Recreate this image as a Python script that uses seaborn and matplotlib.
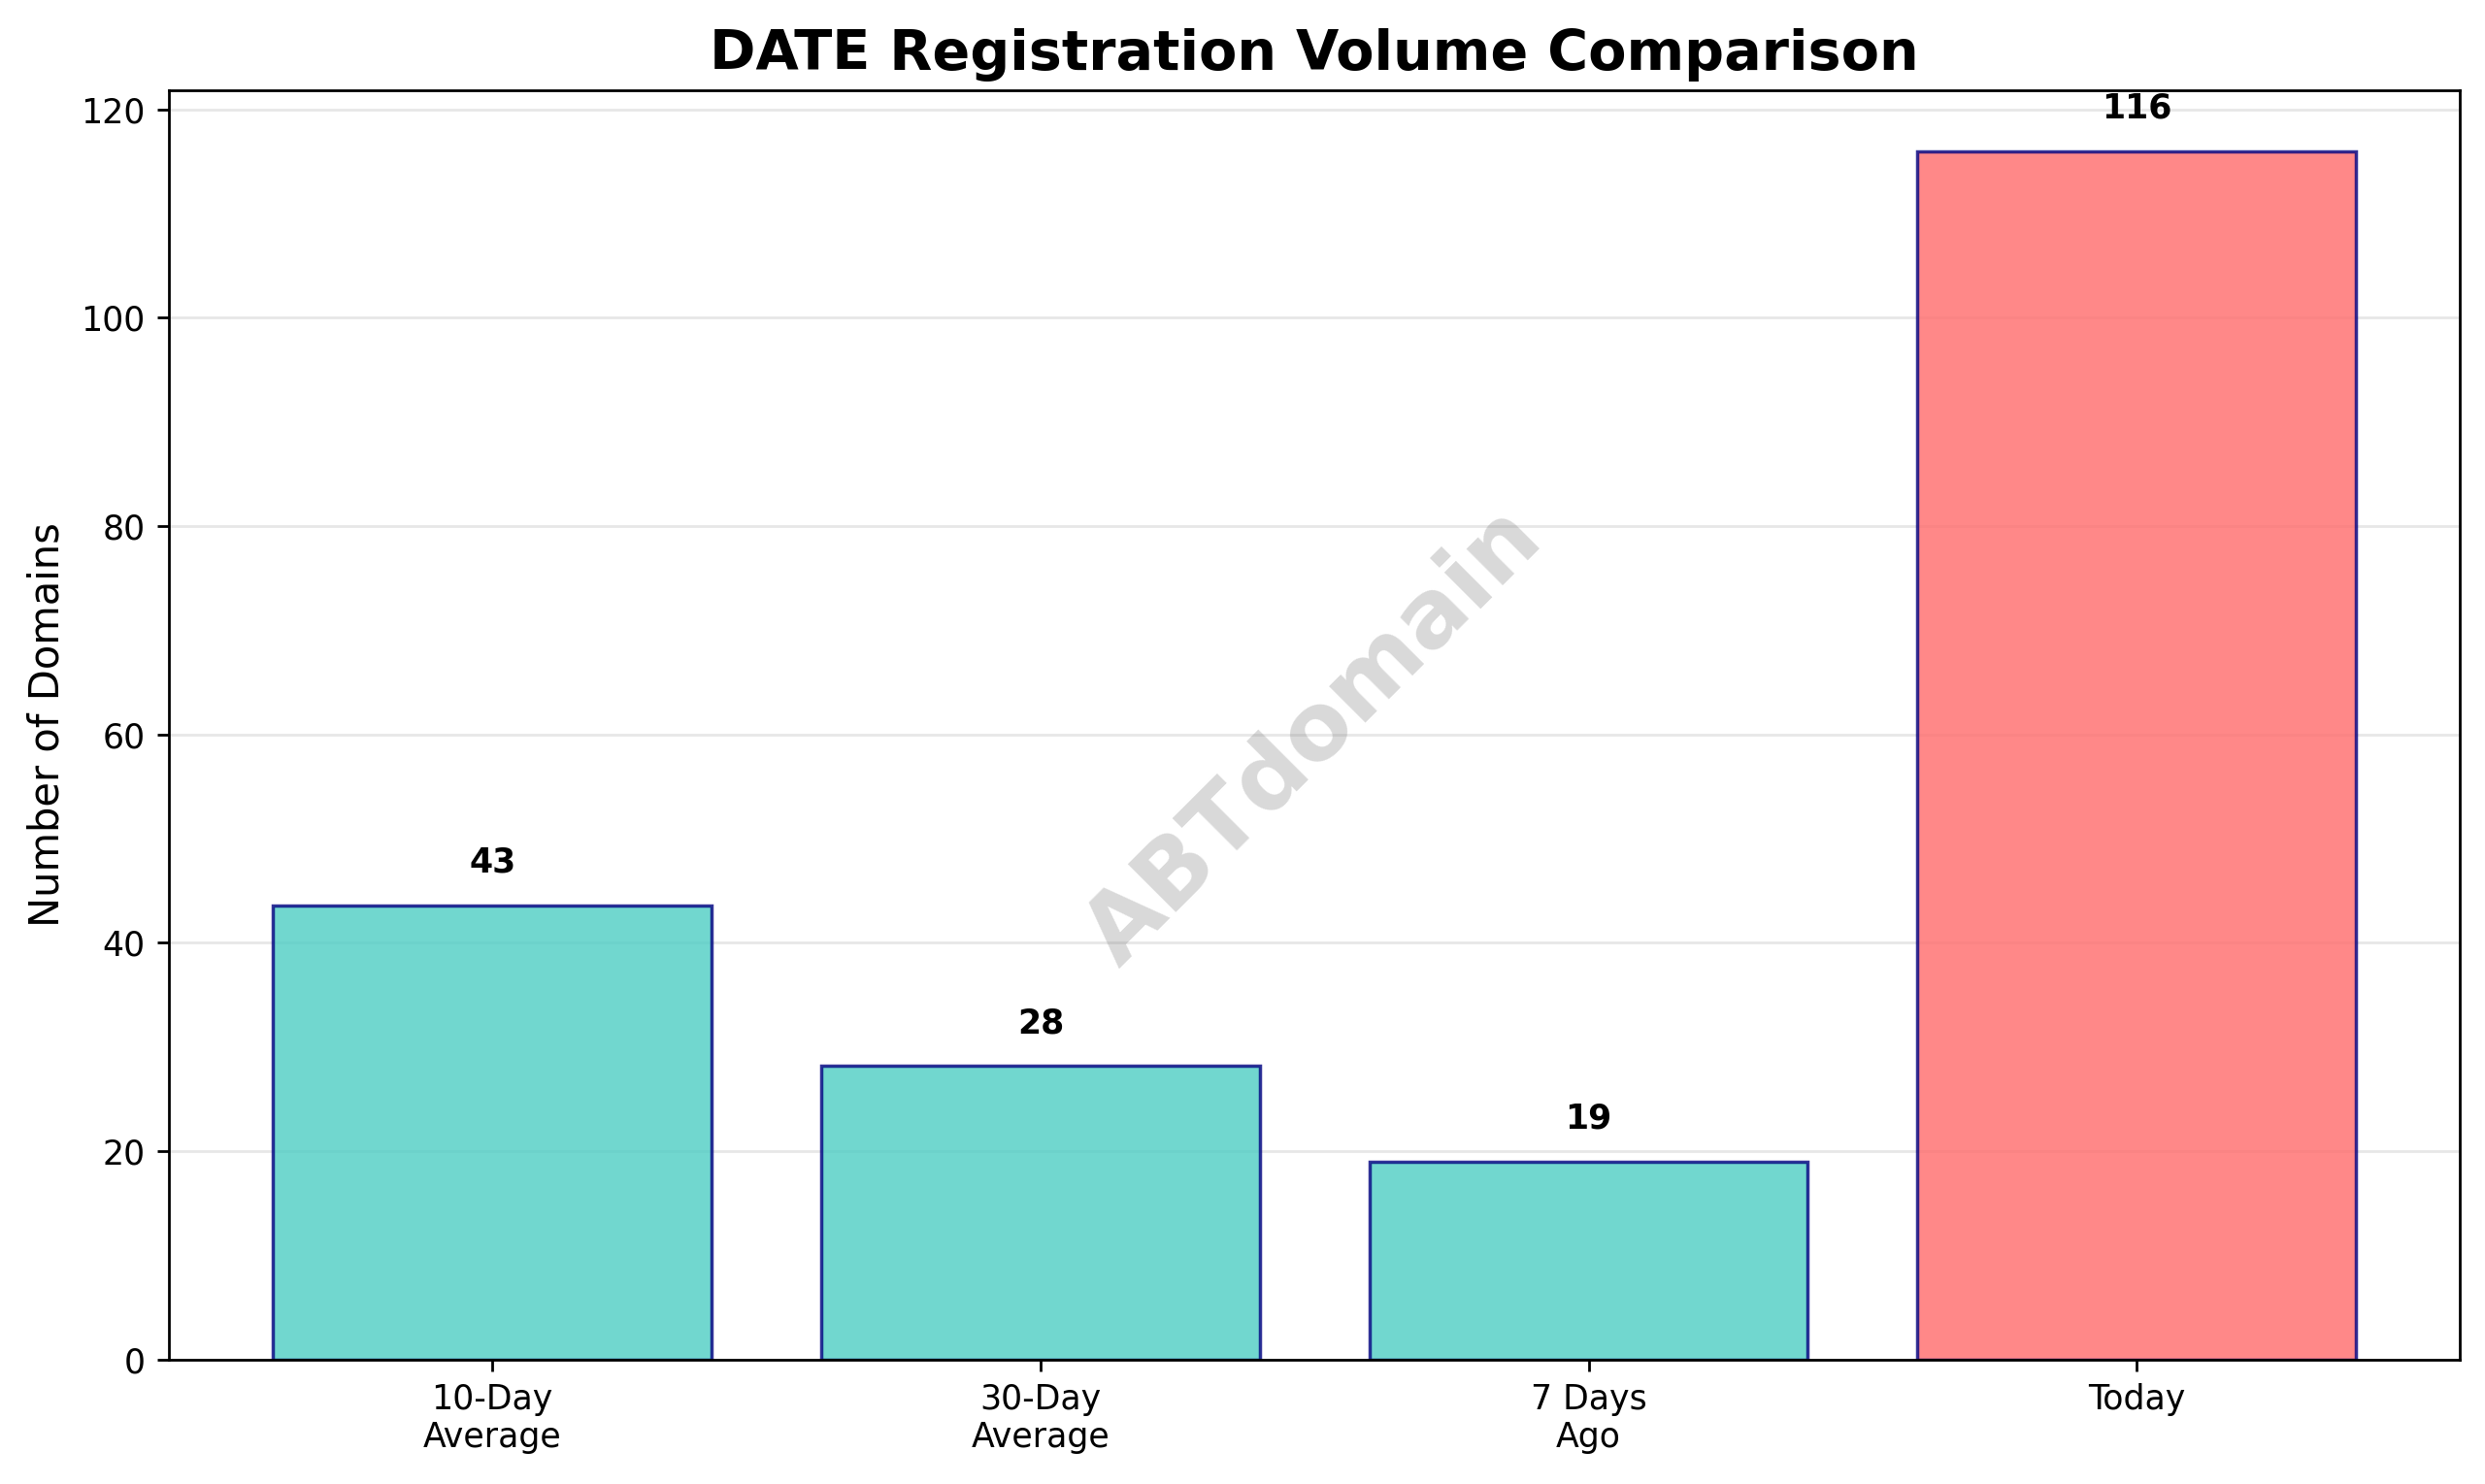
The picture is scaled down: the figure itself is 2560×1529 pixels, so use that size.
import matplotlib
matplotlib.use("Agg")
import matplotlib.pyplot as plt
import seaborn as sns
import pandas as pd

categories = ["10-Day\nAverage", "30-Day\nAverage", "7 Days\nAgo", "Today"]
values = [43.6, 28.2, 19, 116]
labels = ["43", "28", "19", "116"]
colors = ["#4ECDC4", "#4ECDC4", "#4ECDC4", "#FF6B6B"]

df = pd.DataFrame({"cat": categories, "val": values})
fig = plt.figure(figsize=(10.24, 6.116), dpi=250)
ax = fig.add_axes([0.068, 0.084, 0.922, 0.855])
sns.barplot(data=df, x="cat", y="val", hue="cat", palette=colors, legend=False,
            ax=ax, width=0.8, alpha=0.8, edgecolor="navy", linewidth=1, saturation=1)
for i, (v, l) in enumerate(zip(values, labels)):
    ax.text(i, v + 2.5, l, ha="center", va="bottom", fontweight="bold", fontsize=10)
ax.set_xlim(-0.59, 3.59)
ax.set_ylim(0, 121.8)
ax.set_xlabel("")
ax.set_ylabel("Number of Domains", fontsize=12)
ax.set_title("DATE Registration Volume Comparison", fontsize=16.5, fontweight="bold")
ax.yaxis.grid(True, alpha=0.3)
ax.set_axisbelow(True)
ax.text(0.5, 0.49, "ABTdomain", transform=ax.transAxes, fontsize=28, fontweight="bold",
        color="gray", alpha=0.3, rotation=45, ha="center", va="center")
fig.savefig("out.png", dpi=250)
